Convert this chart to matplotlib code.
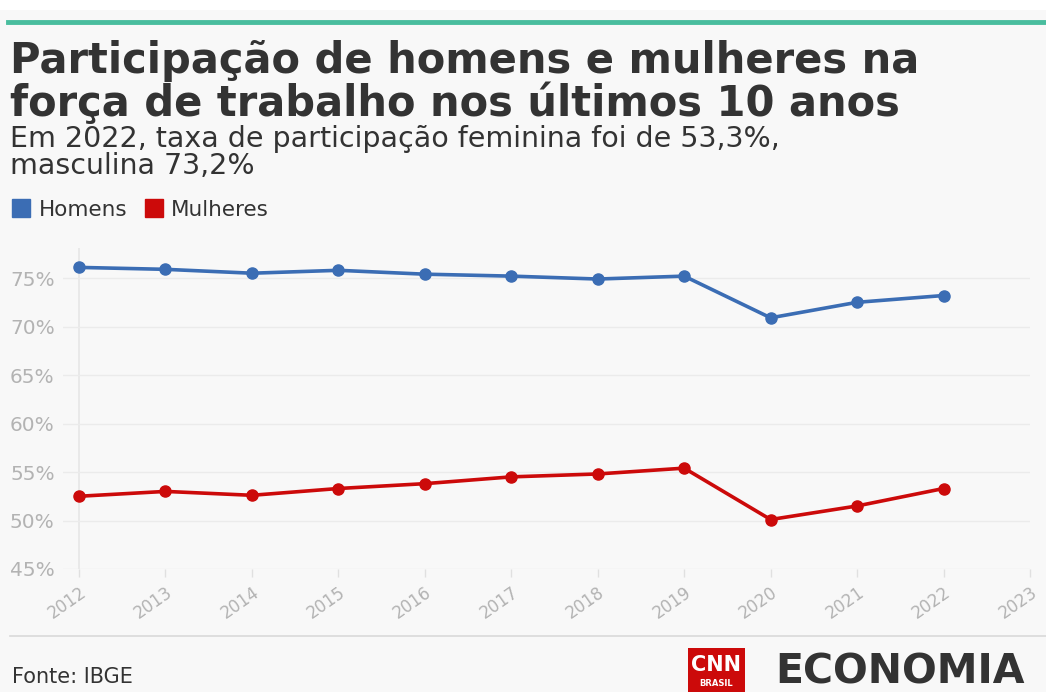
import matplotlib
matplotlib.use("Agg")
import matplotlib.pyplot as plt
from matplotlib.lines import Line2D
from matplotlib.patches import Rectangle

years = [2012, 2013, 2014, 2015, 2016, 2017, 2018, 2019, 2020, 2021, 2022]
homens = [76.1, 75.9, 75.5, 75.8, 75.4, 75.2, 74.9, 75.2, 70.9, 72.5, 73.2]
mulheres = [52.5, 53.0, 52.6, 53.3, 53.8, 54.5, 54.8, 55.4, 50.1, 51.5, 53.3]
xticks = list(range(2012, 2024))
yticks = [45, 50, 55, 60, 65, 70, 75]
ytick_labels = ["45%", "50%", "55%", "60%", "65%", "70%", "75%"]

title = "Participação de homens e mulheres na\nforça de trabalho nos últimos 10 anos"
subtitle = "Em 2022, taxa de participação feminina foi de 53,3%,\nmasculina 73,2%"
series_names = ["Homens", "Mulheres"]
source = "Fonte: IBGE"

BLUE = "#3b6db4"
RED = "#cc0a0a"
BG = "#f8f8f8"
W, H = 1046, 692

fig = plt.figure(figsize=(W / 100, H / 100), dpi=100, facecolor=BG)

def fx(px):
    return px / W

def fy(py):
    return 1 - py / H

# top white strip and teal rule
fig.patches.append(Rectangle((0, fy(10)), 1, 10 / H, transform=fig.transFigure,
                             facecolor="white", edgecolor="none", zorder=0))
fig.add_artist(Line2D([fx(8), 1], [fy(22), fy(22)], color="#49bd9e", lw=3.5,
                      transform=fig.transFigure))

# titles (baseline refers to the last line)
fig.text(fx(10), fy(116), title, fontsize=30, fontweight="bold", color="#333333",
         ha="left", va="baseline", linespacing=1.02, family="DejaVu Sans")
fig.text(fx(10), fy(174), subtitle, fontsize=20.5, color="#333333",
         ha="left", va="baseline", linespacing=0.95, family="DejaVu Sans")

# legend
handles = [Line2D([], [], marker="s", ls="", ms=13, color=BLUE),
           Line2D([], [], marker="s", ls="", ms=13, color=RED)]
fig.legend(handles, series_names, loc="center left", bbox_to_anchor=(fx(3), fy(210)),
           frameon=False, ncol=2, fontsize=15.5, handletextpad=0.35, columnspacing=0.8,
           labelcolor="#333333", handlelength=0.9, borderaxespad=0)

# axes
left, right, bottom, top = 63, 1030, 569, 248
ax = fig.add_axes([fx(left), fy(bottom), fx(right - left), (bottom - top) / H])
ax.set_facecolor(BG)
ax.plot(years, homens, color=BLUE, lw=2.6, marker="o", ms=8, zorder=3)
ax.plot(years, mulheres, color=RED, lw=2.6, marker="o", ms=8, zorder=3)
ax.set_xlim(2011.815, 2023)
ax.set_ylim(45, 78.1)
ax.set_yticks(yticks)
ax.set_yticklabels(ytick_labels)
ax.set_xticks(xticks)
ax.set_xticklabels([str(x) for x in xticks], rotation=35, ha="right",
                   rotation_mode="anchor")
for s in ax.spines.values():
    s.set_visible(False)
ax.grid(axis="y", color="#ebebeb", lw=1)
ax.axvline(2012, color="#e6e6e6", lw=1.2, zorder=1)
ax.tick_params(axis="y", length=0, pad=6, labelsize=14.5, labelcolor="#b3b3b3")
ax.tick_params(axis="x", length=6, width=1, color="#e0e0e0", pad=4, labelsize=12,
               labelcolor="#b3b3b3")

# footer
fig.add_artist(Line2D([fx(10), 1], [fy(636), fy(636)], color="#d9d9d9", lw=1.2,
                      transform=fig.transFigure))
fig.text(fx(12), fy(677), source, fontsize=15, color="#333333", ha="left", va="center")

# logo
fig.patches.append(Rectangle((fx(688), 0), fx(57), (H - 648) / H, transform=fig.transFigure,
                             facecolor="#cc0a0a", edgecolor="none"))
fig.text(fx(716.5), fy(665), "CNN", fontsize=15, fontweight="bold", color="white",
         ha="center", va="center")
fig.text(fx(716.5), fy(684), "BRASIL", fontsize=6, fontweight="bold", color="white",
         ha="center", va="center")
fig.text(fx(775), fy(672), "ECONOMIA", fontsize=29.5, fontweight="bold", color="#333333",
         ha="left", va="center")

fig.savefig("out.png", dpi=100, facecolor=BG)
